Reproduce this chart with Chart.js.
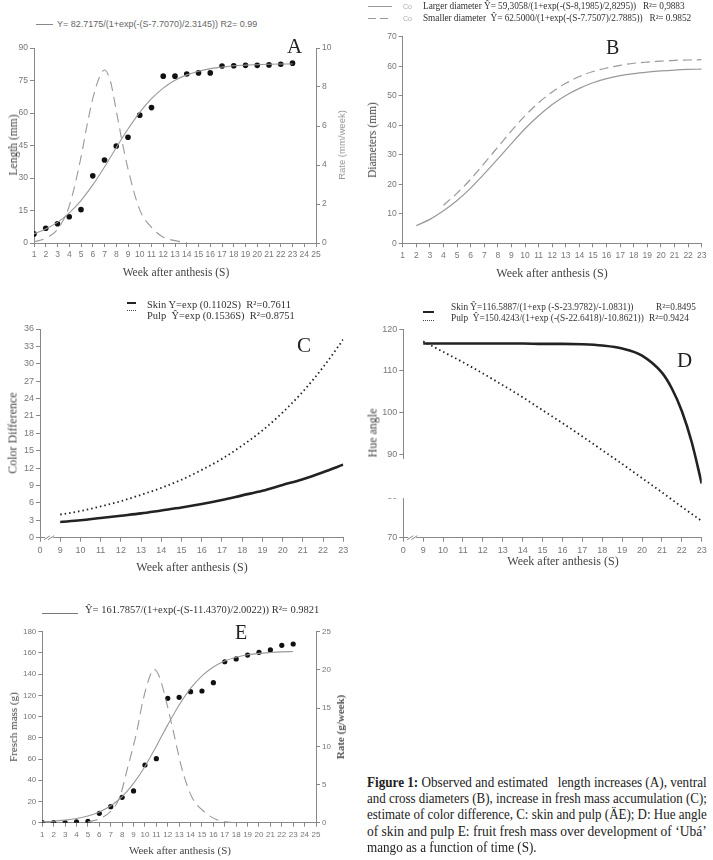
<!DOCTYPE html>
<html>
<head>
<meta charset="utf-8">
<script src="https://cdn.jsdelivr.net/npm/chart.js@4.4.0/dist/chart.umd.min.js"></script>
<style>
body { margin: 0; background: #fff; width: 713px; height: 860px; position: relative; overflow: hidden; font-family: "Liberation Serif", serif; }
canvas { position: absolute; }
.t { position: absolute; white-space: nowrap; color: #333; transform: translateY(-50%); }
.c { position: absolute; white-space: nowrap; color: #444; transform: translate(-50%, -50%); }
.v { position: absolute; white-space: nowrap; color: #444; transform: translate(-50%, -50%) rotate(-90deg); }
.ln { position: absolute; height: 0; }
.letter { position: absolute; font-size: 21px; color: #222; transform: translateY(-50%); }
.cap { position: absolute; left: 367px; white-space: nowrap; font-size: 14px; color: #222; transform-origin: left center; }
</style>
</head>
<body>
<!-- panel A -->
<canvas id="chartA" width="356" height="236" style="left:0;top:36px"></canvas>
<div class="ln" style="left:36px;top:24px;width:17px;border-top:1px solid #888"></div>
<div class="t" style="left:57px;top:24px;font:9px 'Liberation Sans',sans-serif;color:#666">Y= 82.7175/(1+exp(-(S-7.7070)/2.3145)) R2= 0.99</div>
<div class="letter" style="left:287px;top:46px">A</div>
<div class="v" style="left:13px;top:145px;font-size:11.5px">Length (mm)</div>
<div class="v" style="left:341px;top:145px;font:9.5px 'Liberation Sans',sans-serif;color:#999">Rate (mm/week)</div>
<div class="c" style="left:176px;top:272px;font-size:11.5px">Week after anthesis (S)</div>

<!-- panel B -->
<canvas id="chartB" width="358" height="250" style="left:355px;top:26px"></canvas>
<div class="ln" style="left:368px;top:6px;width:24px;border-top:1px solid #999"></div>
<div class="ln" style="left:368px;top:18px;width:24px;height:1px;background:repeating-linear-gradient(90deg,#999 0 8px,transparent 8px 12px)"></div>
<div class="t" style="left:403px;top:6px;font:7px 'Liberation Sans',sans-serif;color:#aaa">Co</div>
<div class="t" style="left:403px;top:18px;font:7px 'Liberation Sans',sans-serif;color:#aaa">Co</div>
<div class="t" style="left:423px;top:6px;font-size:9.3px;letter-spacing:-0.05px">Larger diameter Ŷ= 59,3058/(1+exp(-(S-8,1985)/2,8295))&nbsp;&nbsp; R²= 0,9883</div>
<div class="t" style="left:423px;top:18px;font-size:9.3px;letter-spacing:-0.05px">Smaller diameter&nbsp; Ŷ= 62.5000/(1+exp(-(S-7.7507)/2.7885))&nbsp;&nbsp; R²= 0.9852</div>
<div class="letter" style="left:606px;top:47px;font-size:20px">B</div>
<div class="v" style="left:372px;top:140px;font-size:11.5px">Diameters (mm)</div>
<div class="c" style="left:552px;top:273px;font-size:12px">Week after anthesis (S)</div>

<!-- panel C -->
<canvas id="chartC" width="356" height="250" style="left:0;top:318px"></canvas>
<div class="ln" style="left:127px;top:302px;width:9px;border-top:2px solid #222"></div>
<div class="ln" style="left:127px;top:310px;width:9px;border-top:1px dotted #444"></div>
<div class="t" style="left:147px;top:304px;font-size:10.5px">Skin Y=exp (0.1102S)&nbsp; R²=0.7611</div>
<div class="t" style="left:147px;top:315px;font-size:10.5px">Pulp&nbsp; Ŷ=exp (0.1536S)&nbsp; R²=0.8751</div>
<div class="letter" style="left:297px;top:345px">C</div>
<div class="v" style="left:13px;top:433px;font-size:12px">Color Difference</div>
<div class="c" style="left:192px;top:567px;font-size:12px">Week after anthesis (S)</div>

<!-- panel D -->
<canvas id="chartD" width="358" height="250" style="left:355px;top:318px"></canvas>
<div class="ln" style="left:423px;top:311px;width:11px;border-top:2px solid #222"></div>
<div class="ln" style="left:423px;top:320px;width:11px;border-top:1px dotted #444"></div>
<div class="t" style="left:451px;top:307px;font-size:9.3px">Skin Ŷ=116.5887/(1+exp (-S-23.9782)/-1.0831))</div>
<div class="t" style="left:656px;top:307px;font-size:9.3px">R²=0.8495</div>
<div class="t" style="left:451px;top:318px;font-size:9.3px">Pulp&nbsp; Ŷ=150.4243/(1+exp (-(S-22.6418)/-10.8621))</div>
<div class="t" style="left:649px;top:318px;font-size:9.3px">R²=0.9424</div>
<div class="letter" style="left:677px;top:360px">D</div>
<div class="v" style="left:373px;top:433px;font-size:12px">Hue angle</div>
<div class="c" style="left:563px;top:561px;font-size:12px">Week after anthesis (S)</div>

<!-- panel E -->
<canvas id="chartE" width="356" height="240" style="left:0;top:620px"></canvas>
<div class="ln" style="left:42px;top:613px;width:36px;border-top:1px solid #777"></div>
<div class="t" style="left:85px;top:609px;font-size:10.5px">Ŷ= 161.7857/(1+exp(-(S-11.4370)/2.0022)) R²= 0.9821</div>
<div class="letter" style="left:235px;top:632px;font-size:20px">E</div>
<div class="v" style="left:13px;top:727px;font-size:11px">Fresch mass (g)</div>
<div class="v" style="left:340px;top:727px;font-size:11px;font-weight:bold;color:#555">Rate (g/week)</div>
<div class="c" style="left:180px;top:850px;font-size:11px">Week after anthesis (S)</div>

<!-- caption -->
<div class="cap" style="top:775px"><b>Figure 1:</b> Observed and estimated &nbsp; length increases (A), ventral</div>
<div class="cap" style="top:791px">and cross diameters (B), increase in fresh mass accumulation (C);</div>
<div class="cap" style="top:807px">estimate of color difference, C: skin and pulp (ÄE); D: Hue angle</div>
<div class="cap" style="top:824px">of skin and pulp E: fruit fresh mass over development of ‘Ubá’</div>
<div class="cap" style="top:840px">mango as a function of time (S).</div>

<script>
// A: length
const weeksA = [1, 2, 3, 4, 5, 6, 7, 8, 9, 10, 11, 12, 13, 14, 15, 16, 17, 18, 19, 20, 21, 22, 23];
const lengthObsA = [4.2, 6.8, 8.9, 12.1, 15.4, 31, 38.3, 44.8, 48.8, 59, 62.5, 77, 77, 78, 78.5, 78.5, 81.7, 81.8, 82, 82, 82.2, 82.5, 83];
const lengthFitA = [4.3, 6.5, 9.5, 13.9, 19.6, 26.8, 35.1, 44.0, 52.6, 60.3, 66.6, 71.5, 75.1, 77.6, 79.3, 80.5, 81.2, 81.8, 82.1, 82.3, 82.5, 82.6, 82.6];
const rateWeeksA = [1, 2, 3, 4, 5, 5.5, 6, 6.5, 7, 7.5, 8, 8.5, 9, 10, 11, 12, 13, 14];
const rateA = [0.05, 0.25, 0.7, 1.9, 4.4, 6.0, 7.4, 8.4, 8.87, 8.3, 6.8, 5.2, 3.8, 1.7, 0.8, 0.3, 0.12, 0.02];

// B: diameters
const weeksLargerB = [2, 3, 4, 5, 6, 7, 8, 9, 10, 11, 12, 13, 14, 15, 16, 17, 18, 19, 20, 21, 22, 23];
const largerB = [6.0, 8.1, 11.0, 14.5, 18.7, 23.5, 28.6, 33.8, 38.8, 43.2, 47.0, 50.1, 52.5, 54.4, 55.8, 56.8, 57.5, 58.0, 58.4, 58.7, 58.9, 59.0];
const weeksSmallerB = [4, 5, 6, 7, 8, 9, 10, 11, 12, 13, 14, 15, 16, 17, 18, 19, 20, 21, 22, 23];
const smallerB = [12.9, 17.0, 21.7, 27.1, 32.6, 38.1, 43.2, 47.6, 51.3, 54.2, 56.5, 58.2, 59.4, 60.3, 61.0, 61.4, 61.7, 62.0, 62.1, 62.2];

// C: color difference
const weeksC = [9, 10, 11, 12, 13, 14, 15, 16, 17, 18, 19, 20, 21, 22, 23];
const skinC = [2.7, 3.0, 3.4, 3.8, 4.2, 4.7, 5.2, 5.8, 6.5, 7.3, 8.1, 9.1, 10.1, 11.3, 12.6];
const pulpC = [4.0, 4.6, 5.4, 6.3, 7.4, 8.6, 10.0, 11.7, 13.6, 15.9, 18.5, 21.6, 25.2, 29.4, 34.2];

// D: hue angle
const weeksSkinD = [9, 10, 11, 12, 13, 14, 15, 16, 17, 18, 19, 20, 21, 21.5, 22, 22.5, 23];
const skinD = [116.6, 116.6, 116.6, 116.6, 116.6, 116.6, 116.5, 116.5, 116.4, 116.1, 115.4, 113.7, 109.6, 105.8, 100.4, 92.9, 83.0];
const weeksPulpD = [9, 10, 11, 12, 13, 14, 15, 16, 17, 18, 19, 20, 21, 22, 23];
const pulpD = [117.1, 114.6, 112.1, 109.4, 106.6, 103.7, 100.6, 97.5, 94.3, 91.0, 87.7, 84.3, 80.9, 77.4, 74.0];

// E: fresh mass
const weeksE = [1, 2, 3, 4, 5, 6, 7, 8, 9, 10, 11, 12, 13, 14, 15, 16, 17, 18, 19, 20, 21, 22, 23];
const massObsE = [0, 0, 0, 0.7, 1.3, 8.8, 15.1, 23.9, 29.9, 54.4, 60.3, 117.2, 118.2, 123.5, 124.1, 132, 151.7, 154.3, 158, 160.6, 162.8, 167.2, 168.4];
const massFitE = [0.9, 1.4, 2.4, 3.9, 6.3, 10.0, 15.9, 24.6, 37.0, 53.0, 72.1, 92.2, 110.9, 126.6, 138.4, 146.8, 152.3, 155.9, 158.2, 159.6, 160.4, 161.0, 161.3];
const rateWeeksE = [5, 6, 7, 7.8, 8.5, 9.25, 9.8, 10.3, 10.8, 11.3, 11.8, 12.5, 13.2, 14.1, 15.4, 16.3, 17.2, 18];
const rateE = [0.1, 0.5, 1.5, 3.4, 7.3, 11.7, 15.8, 18.6, 20.1, 19.0, 16.3, 11.9, 7.3, 3.4, 1.2, 0.4, 0.1, 0];

Chart.defaults.font.family = "'Liberation Sans', Arial, sans-serif";
Chart.defaults.color = '#777';
Chart.defaults.animation = false;

function pts(xs, ys) {
    return xs.map((x, i) => ({x: x, y: ys[i]}));
}

// axis with fixed thickness so the plot area lands where the figure has it
function axis(pos, min, max, step, thick, fontSize, labelFn) {
    const horizontal = pos === 'bottom';
    return {
        type: 'linear',
        position: pos,
        min: min,
        max: max,
        border: {color: '#888', width: 1},
        grid: {drawOnChartArea: false, tickLength: 4, color: '#888'},
        ticks: {
            stepSize: step,
            autoSkip: false,
            maxRotation: 0,
            padding: horizontal ? 3 : 2,
            color: '#777',
            font: {size: fontSize},
            callback: labelFn || (v => v)
        },
        afterFit: s => { if (horizontal) s.height = thick; else s.width = thick; }
    };
}

function curve(data, color, width, dash, yAxisID) {
    return {
        data: data, borderColor: color, borderWidth: width, borderDash: dash || [],
        pointRadius: 0, fill: false, cubicInterpolationMode: 'monotone',
        yAxisID: yAxisID || 'y'
    };
}

function dots(data, r) {
    return {
        data: data, showLine: false, pointRadius: r, pointBackgroundColor: '#111',
        pointBorderColor: '#111', pointBorderWidth: 0, yAxisID: 'y'
    };
}

// axis breaks drawn on top (x: between 0 and 9, y: gap in hue axis)
const axisBreaks = {
    id: 'axisBreaks',
    afterDraw(chart, args, opts) {
        const ctx = chart.ctx, a = chart.chartArea;
        ctx.save();
        if (opts.xAt != null) {
            const px = chart.scales.x.getPixelForValue(opts.xAt), py = a.bottom;
            ctx.fillStyle = '#fff';
            ctx.fillRect(px - 4, py - 1, 8, 3);
            ctx.strokeStyle = '#888';
            ctx.lineWidth = 1;
            ctx.beginPath();
            [-2, 2].forEach(d => { ctx.moveTo(px + d - 3, py + 2); ctx.lineTo(px + d + 3, py - 2); });
            ctx.stroke();
        }
        if (opts.yGap) {
            const top = chart.scales.y.getPixelForValue(opts.yGap[1]);
            const bot = chart.scales.y.getPixelForValue(opts.yGap[0]);
            ctx.fillStyle = '#fff';
            ctx.fillRect(a.left - 30, top, 31.5, bot - top);
        }
        ctx.restore();
    }
};

function make(id, datasets, scales, padding, breaks) {
    return new Chart(document.getElementById(id), {
        type: 'line',
        data: {datasets: datasets},
        options: {
            responsive: false,
            devicePixelRatio: 1,
            layout: {padding: padding},
            plugins: {legend: {display: false}, tooltip: {enabled: false}, axisBreaks: breaks || {}},
            scales: scales
        },
        plugins: [axisBreaks]
    });
}

// A
make('chartA', [
    curve(pts(rateWeeksA, rateA), '#999', 1.1, [10, 6], 'y2'),
    curve(pts(weeksA, lengthFitA), '#999', 1.1),
    dots(pts(weeksA, lengthObsA), 2.8)
], {
    x: axis('bottom', 1, 25, 1, 29, 8.5),
    y: axis('left', 0, 90, 15, 34, 8.5),
    y2: axis('right', 0, 10, 2, 40, 8.5)
}, {top: 12, left: 0, right: 0, bottom: 0});

// B
make('chartB', [
    curve(pts(weeksSmallerB, smallerB), '#999', 1.2, [9, 5]),
    curve(pts(weeksLargerB, largerB), '#999', 1.2)
], {
    x: axis('bottom', 1, 23, 1, 32.7, 8.5),
    y: axis('left', 0, 70, 10, 47.7, 8.5)
}, {top: 10.7, left: 0, right: 11.3, bottom: 0});

// C
const zeroLabel = v => v === 8 ? '0' : v;
make('chartC', [
    curve(pts(weeksC, pulpC), '#222', 1.8, [1.5, 3]),
    curve(pts(weeksC, skinC), '#222', 2.6)
], {
    x: axis('bottom', 8, 23, 1, 30.3, 9, zeroLabel),
    y: axis('left', 0, 36, 3, 40, 9)
}, {top: 11, left: 0, right: 12.7, bottom: 0}, {xAt: 8.45});

// D
make('chartD', [
    curve(pts(weeksPulpD, pulpD), '#222', 1.8, [1.5, 3]),
    curve(pts(weeksSkinD, skinD), '#222', 2.6)
], {
    x: axis('bottom', 8, 23, 1, 30.3, 9, zeroLabel),
    y: axis('left', 70, 120, 10, 48.3, 9)
}, {top: 11.3, left: 0, right: 11.3, bottom: 0}, {xAt: 8.45, yGap: [79.5, 88.9]});

// E
make('chartE', [
    curve(pts(rateWeeksE, rateE), '#999', 1.1, [10, 6], 'y2'),
    curve(pts(weeksE, massFitE), '#999', 1.1),
    dots(pts(weeksE, massObsE), 2.6)
], {
    x: axis('bottom', 1, 25, 1, 37.3, 8),
    y: axis('left', 0, 180, 20, 42.3, 8),
    y2: axis('right', 0, 25, 5, 40, 8)
}, {top: 11.7, left: 0, right: 0, bottom: 0});

// caption: stretch each line to the column width like the justified original
const capLines = document.querySelectorAll('.cap');
let scales = [];
capLines.forEach((el, i) => {
    if (i < capLines.length - 1) {
        const s = 340 / el.offsetWidth;
        scales.push(s);
        el.style.transform = 'scaleX(' + s + ')';
    }
});
const avg = scales.reduce((a, b) => a + b, 0) / scales.length;
capLines[capLines.length - 1].style.transform = 'scaleX(' + avg + ')';
</script>
</body>
</html>
